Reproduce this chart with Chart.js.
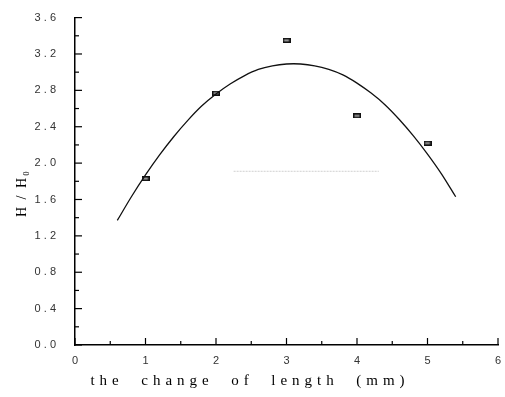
<!DOCTYPE html>
<html>
<head>
<meta charset="utf-8">
<script src="https://cdn.jsdelivr.net/npm/chart.js@4.4.0/dist/chart.umd.min.js"></script>
<style>
  html, body { margin: 0; padding: 0; background: #fff; }
  #wrap { width: 505px; height: 397px; }
</style>
</head>
<body>
<div id="wrap"><canvas id="lengthChart" width="505" height="397"></canvas></div>
<script>
// measured points
const lengthChange = [1, 2, 3, 4, 5];
const ratioValues = [1.83, 2.77, 3.35, 2.52, 2.22];

// fitted curve
const curveX = [0.6, 0.8, 1.0, 1.2, 1.4, 1.6, 1.8, 2.0, 2.2, 2.4, 2.6, 2.8, 3.0, 3.2, 3.4, 3.6, 3.8, 4.0, 4.2, 4.4, 4.6, 4.8, 5.0, 5.2, 5.4];
const curveY = [1.37, 1.63, 1.87, 2.09, 2.29, 2.47, 2.63, 2.76, 2.87, 2.96, 3.03, 3.07, 3.09, 3.09, 3.07, 3.03, 2.97, 2.88, 2.77, 2.64, 2.48, 2.30, 2.10, 1.88, 1.63];

// faint grey trace across the middle of the plot
const traceX = [2.25, 4.31];
const traceY = [1.91, 1.91];

const yTickLabels = ['0 . 0', '0 . 4', '0 . 8', '1 . 2', '1 . 6', '2 . 0', '2 . 4', '2 . 8', '3 . 2', '3 . 6'];
const xTickLabels = ['0', '1', '2', '3', '4', '5', '6'];
const xTitle = 'the  change  of  length  (mm)';
const yTitle = 'H / H\u2080';

function toXY(xs, ys) {
    return xs.map((x, i) => ({x: x, y: ys[i]}))
}

// small dark rectangle marker
const marker = document.createElement('canvas');
marker.width = 8;
marker.height = 5;
const mctx = marker.getContext('2d');
mctx.fillStyle = '#111';
mctx.fillRect(0, 0, 8, 5);
mctx.fillStyle = '#999';
mctx.fillRect(1.5, 1.5, 5, 2);

const inwardTicks = {
    id: 'inwardTicks',
    afterDraw(chart) {
        const ctx = chart.ctx;
        const xs = chart.scales.x;
        const ys = chart.scales.y;
        const area = chart.chartArea;
        ctx.save();
        ctx.strokeStyle = '#000';
        ctx.lineWidth = 1.2;
        for (let v = 0; v <= 6.001; v += 0.5) {
            const px = xs.getPixelForValue(v);
            const len = Math.abs(v - Math.round(v)) < 0.01 ? 7 : 4;
            ctx.beginPath();
            ctx.moveTo(px, area.bottom);
            ctx.lineTo(px, area.bottom - len);
            ctx.stroke();
        }
        for (let v = 0; v <= 3.601; v += 0.2) {
            const py = ys.getPixelForValue(v);
            const major = Math.abs(v / 0.4 - Math.round(v / 0.4)) < 0.01;
            const len = major ? 7 : 4;
            ctx.beginPath();
            ctx.moveTo(area.left, py);
            ctx.lineTo(area.left + len, py);
            ctx.stroke();
        }

        // axis titles
        ctx.fillStyle = '#000';
        ctx.font = '15px "Liberation Serif"';
        ctx.textAlign = 'center';
        ctx.textBaseline = 'middle';
        ctx.letterSpacing = '5px';
        ctx.fillText(xTitle, 250, 381);
        ctx.translate(22, 193);
        ctx.rotate(-Math.PI / 2);
        ctx.font = '14px "Liberation Serif"';
        ctx.letterSpacing = '2px';
        ctx.fillText(yTitle, 0, 0);
        ctx.restore();
    }
};

new Chart(document.getElementById('lengthChart').getContext('2d'), {
    type: 'scatter',
    data: {
        datasets: [
            {
                label: 'trace',
                data: toXY(traceX, traceY),
                showLine: true,
                borderColor: 'rgba(150,150,150,0.45)',
                borderWidth: 1,
                borderDash: [2, 1],
                pointRadius: 0,
            },
            {
                label: 'fit',
                data: toXY(curveX, curveY),
                showLine: true,
                borderColor: '#111',
                borderWidth: 1.3,
                tension: 0.3,
                pointRadius: 0,
            },
            {
                label: 'H/H0',
                data: toXY(lengthChange, ratioValues),
                pointStyle: marker,
                pointRadius: 4,
            },
        ],
    },
    options: {
        responsive: false,
        animation: false,
        events: [],
        layout: {
            padding: {top: 13, right: 7, left: 0, bottom: 0},
        },
        scales: {
            x: {
                type: 'linear',
                min: 0,
                max: 6,
                grid: {display: false},
                border: {display: true, color: '#000', width: 1.5},
                ticks: {
                    stepSize: 1,
                    color: '#333',
                    padding: 1,
                    font: {family: 'Arial, "Liberation Sans"', size: 11},
                    callback: (v) => xTickLabels[v],
                },
                afterFit: (scale) => { scale.height = 52 },
            },
            y: {
                type: 'linear',
                min: 0,
                max: 3.6,
                grid: {display: false},
                border: {display: true, color: '#000', width: 1.5},
                ticks: {
                    stepSize: 0.4,
                    color: '#333',
                    padding: 11,
                    font: {family: 'Arial, "Liberation Sans"', size: 11},
                    callback: (v) => yTickLabels[Math.round(v / 0.4)],
                },
                afterFit: (scale) => { scale.width = 75 },
            },
        },
        plugins: {
            legend: {display: false},
            tooltip: {enabled: false},
        },
    },
    plugins: [inwardTicks],
});
</script>
</body>
</html>
